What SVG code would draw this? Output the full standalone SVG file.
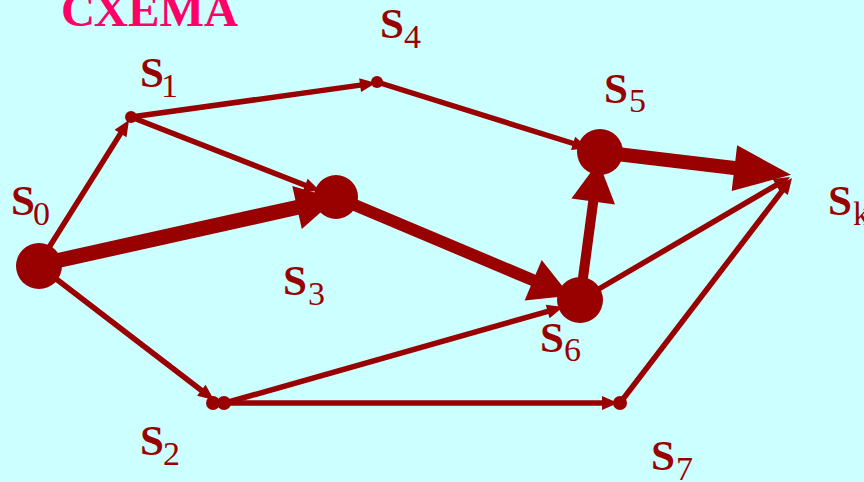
<svg xmlns="http://www.w3.org/2000/svg" width="864" height="482" viewBox="0 0 864 482">
<style>
.bg{fill:#CCFFFF}
.title{font-family:"Liberation Serif",serif;font-weight:bold;font-size:47px;fill:#FF0066}
.lbl{font-family:"Liberation Serif",serif;font-weight:bold;font-size:43px;fill:#990000}
.sub{font-family:"Liberation Serif",serif;font-weight:normal;font-size:34px;fill:#990000}
.node{fill:#990000}
.thin{stroke:#990000;stroke-width:5.5;fill:none;marker-end:url(#ah)}
.thick{stroke:#990000;fill:none}
</style>
<defs>
<marker id="ah" markerUnits="userSpaceOnUse" markerWidth="20" markerHeight="16" refX="2" refY="7" orient="auto" overflow="visible">
<path d="M0,0 L16,7 L0,14 Z" fill="#990000"/>
</marker>
<marker id="ahA" markerUnits="userSpaceOnUse" markerWidth="44" markerHeight="46" refX="2" refY="22" orient="auto" overflow="visible">
<path d="M0,0 L40,22 L0,44 Z" fill="#990000"/>
</marker>
<marker id="ahB" markerUnits="userSpaceOnUse" markerWidth="60" markerHeight="48" refX="2" refY="23" orient="auto" overflow="visible">
<path d="M0,0 L57,23 L0,46 Z" fill="#990000"/>
</marker>
</defs>
<rect class="bg" x="0" y="0" width="864" height="482"/>
<text class="title" x="61" y="26" textLength="177" lengthAdjust="spacingAndGlyphs">СХЕМА</text>

<g id="connectors">
<line class="thin" x1="38" y1="265" x2="121.6" y2="131.9"/>
<line class="thin" x1="131" y1="117" x2="362.1" y2="84.9"/>
<line class="thin" x1="38" y1="265" x2="202.9" y2="391.5"/>
<line class="thin" x1="131" y1="117" x2="307" y2="186"/>
<line class="thin" x1="377" y1="82" x2="575" y2="144"/>
<line class="thin" x1="225" y1="403" x2="549.6" y2="310.9"/>
<line class="thin" x1="225" y1="403" x2="604" y2="403"/>
<line class="thin" x1="580" y1="300" x2="777.9" y2="184.1"/>
<line class="thin" x1="620" y1="403" x2="783.5" y2="189.1"/>
<line class="thick" stroke-width="15" x1="38" y1="265" x2="299" y2="207" marker-end="url(#ahA)"/>
<line class="thick" stroke-width="12" x1="338" y1="198" x2="535" y2="281" marker-end="url(#ahA)"/>
<line class="thick" stroke-width="10" x1="580" y1="300" x2="593.5" y2="199.5" marker-end="url(#ahA)"/>
<line class="thick" stroke-width="14" x1="600" y1="152" x2="736.4" y2="168.3" marker-end="url(#ahB)"/>
</g>

<g id="S0"><circle class="node" cx="39" cy="266" r="23"/><text class="lbl" x="11" y="215">S</text><text class="sub" x="33" y="225">0</text></g>
<g id="S1"><circle class="node" cx="131" cy="117" r="6"/><text class="lbl" x="140" y="87">S</text><text class="sub" x="161" y="97">1</text></g>
<g id="S2"><circle class="node" cx="213" cy="403" r="7"/><circle class="node" cx="224" cy="403" r="7"/><text class="lbl" x="140" y="455">S</text><text class="sub" x="163" y="465">2</text></g>
<g id="S3"><circle class="node" cx="336" cy="197" r="22"/><text class="lbl" x="283" y="295">S</text><text class="sub" x="308" y="305">3</text></g>
<g id="S4"><circle class="node" cx="377" cy="82" r="6"/><text class="lbl" x="380" y="38">S</text><text class="sub" x="404" y="48">4</text></g>
<g id="S5"><circle class="node" cx="600" cy="152" r="23"/><text class="lbl" x="604" y="103">S</text><text class="sub" x="629" y="112">5</text></g>
<g id="S6"><circle class="node" cx="580" cy="300" r="23"/><text class="lbl" x="540" y="352">S</text><text class="sub" x="564" y="361">6</text></g>
<g id="S7"><circle class="node" cx="620" cy="403" r="7"/><text class="lbl" x="651" y="470">S</text><text class="sub" x="676" y="480">7</text></g>
<g id="Sk"><text class="lbl" x="828" y="215">S</text><text class="sub" x="853" y="225">k</text></g>
</svg>
